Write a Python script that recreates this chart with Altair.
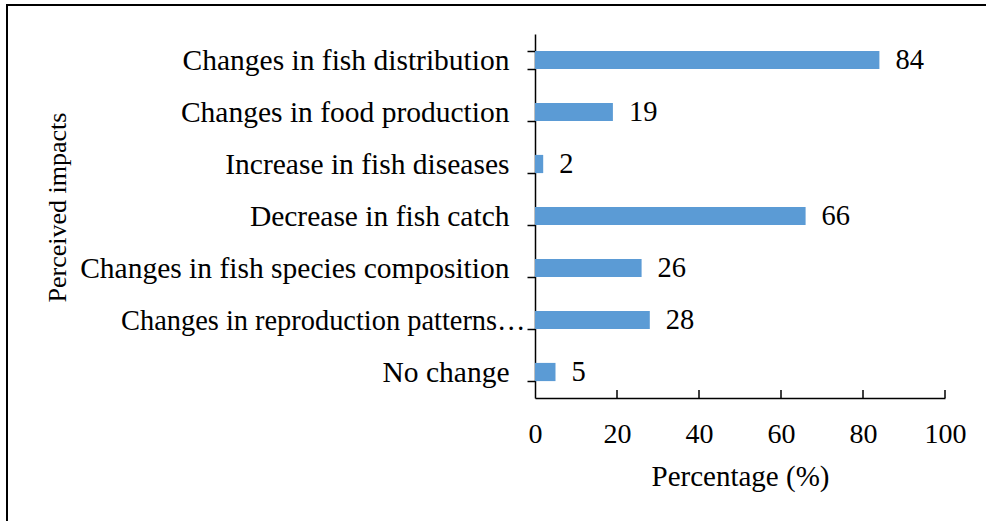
import altair as alt
import pandas as pd

# Perceived impacts of climate change on fisheries (percentage of respondents)
impacts = [
    "Changes in fish distribution",
    "Changes in food production",
    "Increase in fish diseases",
    "Decrease in fish catch",
    "Changes in fish species composition",
    "Changes in reproduction patterns…",
    "No change",
]
percentages = [84, 19, 2, 66, 26, 28, 5]
x_ticks = [0, 20, 40, 60, 80, 100]

df = pd.DataFrame({"impact": impacts, "pct": percentages})
ticks_df = pd.DataFrame({"t": x_ticks[1:]})
one = pd.DataFrame({"k": [0]})

FONT = "Liberation Serif"
BAR = "#5B9BD5"
long_label = impacts[5]

y_enc = alt.Y(
    "impact:N",
    sort=impacts,
    scale=alt.Scale(paddingInner=0.65, paddingOuter=0.325),
    axis=alt.Axis(
        title="Perceived impacts",
        titleFont=FONT,
        titleFontSize=26,
        titleFontWeight="normal",
        titleColor="black",
        titleX=-478,
        titleY=173,
        titleAngle=-90,
        titleBaseline="middle",
        titleAlign="center",
        labelFont=FONT,
        labelFontSize=alt.expr(f"datum.label == '{long_label}' ? 28.4 : 29.5"),
        labelColor="black",
        labelLimit=0,
        labelPadding=alt.expr(f"datum.label == '{long_label}' ? 2 : 18"),
        tickSize=8,
        tickColor="black",
        tickWidth=1.5,
        tickBand="extent",
        domainColor="black",
        domainWidth=1.5,
        grid=False,
    ),
)

x_scale = alt.Scale(domain=[0, 100], nice=False)

bars = alt.Chart(df).mark_bar(color=BAR).encode(
    x=alt.X(
        "pct:Q",
        scale=x_scale,
        axis=alt.Axis(
            values=x_ticks,
            title="Percentage (%)",
            titleFont=FONT,
            titleFontSize=29,
            titleFontWeight="normal",
            titleColor="black",
            titleY=78,
            titleBaseline="middle",
            labelFont=FONT,
            labelFontSize=28,
            labelColor="black",
            labelPadding=22,
            labelFlush=False,
            ticks=False,
            domainColor="black",
            domainWidth=1.5,
            grid=False,
        ),
    ),
    y=y_enc,
)

labels = alt.Chart(df).mark_text(
    align="left", baseline="middle", dx=16, font=FONT, fontSize=28.5, color="black"
).encode(
    x=alt.X("pct:Q", scale=x_scale),
    y=alt.Y("impact:N", sort=impacts),
    text="pct:Q",
)

# inward tick marks on the x axis
xticks = alt.Chart(ticks_df).mark_rule(color="black", strokeWidth=1.5).encode(
    x=alt.X("t:Q", scale=x_scale),
    y=alt.value(356),
    y2=alt.value(364),
)

# outer frame (left and top edges)
frame_left = alt.Chart(one).mark_rule(color="black", strokeWidth=2).encode(
    x=alt.value(-528), y=alt.value(-29), y2=alt.value(500)
)
frame_top = alt.Chart(one).mark_rule(color="black", strokeWidth=2).encode(
    x=alt.value(-529), x2=alt.value(460), y=alt.value(-29)
)

chart = (
    alt.layer(bars, labels, xticks, frame_left, frame_top)
    .properties(
        width=410,
        height=364,
        autosize=alt.AutoSizeParams(type="none"),
        padding={"left": 535, "top": 34, "right": 41, "bottom": 123},
        background="white",
    )
    .configure_view(stroke=None)
)

chart.save("out.html", embed_options={"renderer": "svg", "actions": False})
